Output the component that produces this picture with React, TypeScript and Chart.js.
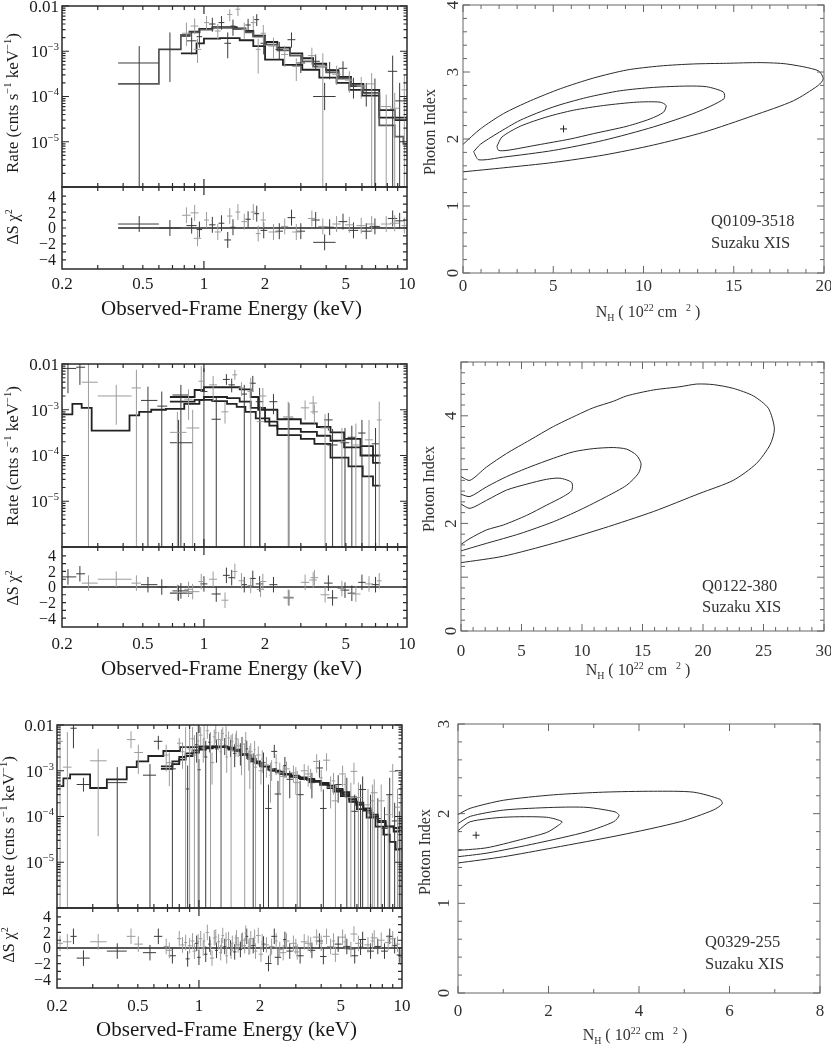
import React, { useEffect, useRef } from 'react';
import { Chart, registerables } from 'chart.js';

Chart.register(...registerables);

const PAGE_W = 831;
const PAGE_H = 1049;
const SERIF = '"Liberation Serif", "Times New Roman", serif';
const DARK = '#3a3a3a';
const GRAY = '#9c9c9c';

// ---------------- tick labels ----------------
const energyTickValues = [0.2, 0.5, 1, 2, 5, 10];
const energyTickLabels = ['0.2', '0.5', '1', '2', '5', '10'];
const energyMinorTicks = [0.3, 0.4, 0.5, 0.6, 0.7, 0.8, 0.9, 2, 3, 4, 5, 6, 7, 8, 9];
const energyMajorTicks = [1];
const rateTickValues = [1e-2, 1e-3, 1e-4, 1e-5];
const rateTickBase = ['0.01', '10', '10', '10'];
const rateTickExp = ['', '−3', '−4', '−5'];
const rateDecades = [1e-6, 1e-5, 1e-4, 1e-3, 1e-2];
const residTickValues = [4, 2, 0, -2, -4];
const residTickLabels = ['4', '2', '0', '−2', '−4'];
const residAllTicks = [-4, -3, -2, -1, 0, 1, 2, 3, 4];

const q0109NhTicks = [0, 5, 10, 15, 20];
const q0109GammaTicks = [0, 1, 2, 3, 4];
const q0122NhTicks = [0, 5, 10, 15, 20, 25, 30];
const q0122GammaTicks = [0, 2, 4];
const q0122GammaMajor = [0, 1, 2, 3, 4, 5];
const q0329NhTicks = [0, 2, 4, 6, 8];
const q0329GammaTicks = [0, 1, 2, 3];

// ---------------- spectra: [E, Elo, Ehi, rate, rateLo, rateHi, residual, instrument(0 dark / 1 grey)] ----------------
const q0109Points = [
  [0.48, 0.378, 0.60, 5.5e-4, 0, 1.3e-3, 0.5, 0],
  [0.68, 0.60, 0.77, 1.1e-3, 2.1e-4, 2.6e-3, 0.0, 0],
  [0.82, 0.78, 0.86, 2.5e-3, 1.3e-3, 4.3e-3, 1.6, 1],
  [0.87, 0.82, 0.92, 1.7e-3, 8.5e-4, 2.8e-3, 0.3, 0],
  [0.90, 0.86, 0.94, 3.6e-3, 2.4e-3, 5.3e-3, 1.9, 1],
  [0.95, 0.92, 0.98, 2.1e-3, 1.2e-3, 3.3e-3, -0.2, 0],
  [0.93, 0.89, 0.97, 1.1e-3, 5.5e-4, 1.9e-3, -1.3, 1],
  [1.03, 1.0, 1.06, 4.3e-3, 2.9e-3, 6.0e-3, 1.0, 1],
  [1.10, 1.06, 1.14, 4.0e-3, 2.7e-3, 5.5e-3, 0.4, 0],
  [1.17, 1.13, 1.21, 2.8e-3, 1.8e-3, 4.0e-3, -0.5, 1],
  [1.22, 1.18, 1.26, 4.3e-3, 3.0e-3, 6.0e-3, 0.6, 0],
  [1.31, 1.26, 1.36, 1.5e-3, 7.0e-4, 2.6e-3, -1.5, 0],
  [1.34, 1.30, 1.38, 6.5e-3, 4.6e-3, 8.5e-3, 1.5, 1],
  [1.39, 1.35, 1.43, 3.6e-3, 2.2e-3, 5.0e-3, 0.1, 0],
  [1.47, 1.43, 1.51, 8.5e-3, 6.0e-3, 1.0e-2, 2.0, 1],
  [1.58, 1.53, 1.63, 3.0e-3, 1.9e-3, 4.3e-3, 0.8, 1],
  [1.65, 1.60, 1.70, 3.8e-3, 2.6e-3, 5.2e-3, 1.1, 0],
  [1.75, 1.70, 1.80, 4.3e-3, 2.9e-3, 6.0e-3, 2.0, 1],
  [1.82, 1.77, 1.87, 5.0e-3, 3.6e-3, 6.6e-3, 1.8, 0],
  [1.85, 1.80, 1.90, 1.1e-3, 3.2e-4, 1.9e-3, -0.7, 1],
  [1.96, 1.90, 2.02, 2.5e-3, 1.5e-3, 3.8e-3, 1.0, 1],
  [1.97, 1.90, 2.05, 1.5e-3, 8.5e-4, 2.3e-3, -0.3, 0],
  [2.20, 2.08, 2.32, 1.3e-3, 7.0e-4, 2.0e-3, -0.5, 1],
  [2.35, 2.25, 2.45, 1.1e-3, 6.5e-4, 1.6e-3, -0.4, 0],
  [2.50, 2.40, 2.60, 8.5e-4, 4.5e-4, 1.3e-3, 0.2, 1],
  [2.70, 2.58, 2.82, 1.8e-3, 1.2e-3, 2.6e-3, 1.3, 0],
  [2.85, 2.72, 2.98, 4.6e-4, 2.2e-4, 7.0e-4, -0.5, 1],
  [3.00, 2.85, 3.15, 5.5e-4, 3.3e-4, 8.0e-4, -0.4, 0],
  [3.40, 3.25, 3.55, 8.0e-4, 5.0e-4, 1.2e-3, 1.2, 1],
  [3.55, 3.38, 3.72, 6.0e-4, 3.8e-4, 8.5e-4, 1.0, 0],
  [3.85, 3.65, 4.05, 4.6e-4, 0, 9.0e-4, 0.2, 1],
  [3.93, 3.45, 4.45, 1.0e-4, 5.0e-5, 2.0e-4, -1.8, 0],
  [4.16, 3.95, 4.37, 3.9e-4, 2.4e-4, 5.8e-4, 0.1, 0],
  [4.50, 4.28, 4.72, 3.1e-4, 1.8e-4, 4.8e-4, 0.5, 1],
  [4.84, 4.60, 5.08, 4.2e-4, 2.5e-4, 6.0e-4, 0.8, 0],
  [5.20, 4.95, 5.45, 2.3e-4, 1.2e-4, 3.6e-4, 0.4, 1],
  [5.45, 5.15, 5.75, 1.7e-4, 9.0e-5, 2.6e-4, -0.3, 0],
  [5.95, 5.65, 6.25, 1.7e-4, 9.0e-5, 2.7e-4, 0.3, 1],
  [6.30, 5.95, 6.65, 1.2e-4, 6.0e-5, 2.0e-4, -0.4, 0],
  [6.70, 6.35, 7.05, 1.9e-4, 0, 3.3e-4, 0.5, 1],
  [6.95, 6.55, 7.35, 1.4e-4, 0, 2.5e-4, 0.2, 0],
  [7.90, 7.45, 8.35, 6.0e-5, 0, 1.1e-4, 0.5, 1],
  [8.50, 8.05, 8.95, 3.6e-4, 0, 8.0e-4, 1.2, 0],
  [8.70, 8.25, 9.15, 5.5e-5, 0, 1.2e-4, 0.6, 1],
  [9.20, 8.75, 9.65, 8.0e-5, 0, 2.0e-4, 0.9, 0],
  [9.70, 9.40, 10.0, 1.4e-4, 0, 3.0e-4, 0.3, 1],
];

// models: [Elo, Ehi, rate]
const q0109ModelA = [
  [0.378, 0.60, 1.9e-4], [0.60, 0.77, 1.1e-3], [0.77, 0.85, 2.3e-3], [0.85, 0.95, 2.6e-3],
  [0.95, 1.10, 3.0e-3], [1.10, 1.40, 3.3e-3], [1.40, 1.60, 3.1e-3], [1.60, 1.75, 2.6e-3],
  [1.75, 2.00, 2.1e-3], [2.00, 2.30, 1.4e-3], [2.30, 2.65, 1.05e-3], [2.65, 3.05, 8.0e-4],
  [3.05, 3.45, 6.0e-4], [3.45, 4.00, 4.6e-4], [4.00, 4.60, 3.4e-4], [4.60, 5.30, 2.5e-4],
  [5.30, 6.10, 1.7e-4], [6.10, 7.30, 1.2e-4], [7.30, 8.70, 2.3e-5], [8.70, 9.60, 1.3e-5], [9.60, 10.0, 9e-6],
];
const q0109ModelB = [
  [0.77, 0.85, 2.2e-3], [0.85, 0.95, 2.7e-3], [0.95, 1.10, 3.1e-3], [1.10, 1.45, 3.4e-3],
  [1.45, 1.60, 3.2e-3], [1.60, 1.75, 2.8e-3], [1.75, 2.00, 2.2e-3], [2.00, 2.30, 1.6e-3],
  [2.30, 2.65, 1.2e-3], [2.65, 3.05, 9.0e-4], [3.05, 3.45, 7.0e-4], [3.45, 4.00, 5.3e-4],
  [4.00, 4.60, 3.8e-4], [4.60, 5.30, 2.7e-4], [5.30, 6.10, 1.9e-4], [6.10, 7.30, 1.4e-4], [7.30, 10.0, 3.4e-5],
];
const q0109ModelC = [
  [0.77, 0.92, 9.0e-4], [0.92, 1.00, 1.5e-3], [1.00, 1.20, 1.9e-3], [1.20, 1.50, 1.95e-3],
  [1.50, 1.75, 1.75e-3], [1.75, 2.00, 1.3e-3], [2.00, 2.45, 6.5e-4], [2.45, 3.05, 5.0e-4],
  [3.05, 3.70, 3.9e-4], [3.70, 4.50, 2.6e-4], [4.50, 5.20, 2.0e-4], [5.20, 6.00, 1.4e-4],
  [6.00, 7.30, 1.05e-4], [7.30, 8.70, 5.0e-5], [8.70, 10.0, 3.0e-5],
];
const q0109ZeroLine = [0.378, 10];

const q0122Points = [
  [0.214, 0.2, 0.235, 8.0e-3, 2.3e-3, 1.5e-2, 1.3, 0],
  [0.245, 0.235, 0.26, 8.5e-3, 3.5e-3, 1.5e-2, 1.7, 0],
  [0.27, 0.25, 0.30, 4.0e-3, 0, 1.5e-2, 0.5, 1],
  [0.37, 0.30, 0.44, 2.0e-3, 4.7e-4, 3.5e-3, 1.0, 1],
  [0.465, 0.44, 0.49, 3.0e-3, 0, 7.5e-3, 0.5, 1],
  [0.53, 0.49, 0.59, 1.6e-3, 0, 3.2e-3, 0.3, 0],
  [0.62, 0.59, 0.66, 1.2e-3, 0, 2.5e-3, 0.0, 0],
  [0.74, 0.68, 0.82, 3.2e-4, 0, 9.0e-4, -0.7, 1],
  [0.75, 0.68, 0.88, 1.9e-4, 0, 6.0e-4, -0.8, 0],
  [0.77, 0.70, 0.84, 2.1e-3, 0, 3.5e-3, -0.5, 0],
  [0.84, 0.80, 0.88, 1.7e-3, 6.0e-4, 2.8e-3, -0.3, 1],
  [0.88, 0.82, 0.95, 4.0e-4, 0, 1.0e-3, -0.6, 1],
  [0.97, 0.94, 1.0, 4.2e-3, 2.5e-3, 9.0e-3, 0.7, 1],
  [1.0, 0.96, 1.04, 2.5e-3, 0, 8.0e-3, 0.4, 0],
  [1.11, 1.06, 1.16, 3.5e-3, 1.5e-3, 5.5e-3, 1.0, 1],
  [1.15, 1.09, 1.21, 6.2e-4, 0, 1.8e-3, -0.9, 0],
  [1.27, 1.22, 1.32, 9.0e-4, 5.0e-4, 1.5e-3, -1.7, 1],
  [1.29, 1.24, 1.34, 4.6e-3, 3.5e-3, 6.0e-3, 1.5, 0],
  [1.37, 1.32, 1.42, 3.5e-3, 2.4e-3, 4.8e-3, 1.2, 0],
  [1.42, 1.38, 1.46, 5.8e-3, 4.5e-3, 7.5e-3, 2.0, 1],
  [1.53, 1.48, 1.58, 3.0e-3, 2.0e-3, 4.0e-3, 0.8, 1],
  [1.58, 1.53, 1.63, 2.2e-3, 0, 3.5e-3, 0.3, 0],
  [1.70, 1.64, 1.76, 2.5e-3, 0, 5.0e-3, 0.2, 1],
  [1.74, 1.68, 1.80, 3.8e-3, 2.5e-3, 5.5e-3, 1.1, 0],
  [1.88, 1.80, 1.96, 1.5e-3, 0, 3.0e-3, 0.4, 0],
  [1.95, 1.87, 2.03, 2.0e-3, 1.1e-3, 3.0e-3, 0.7, 1],
  [1.90, 1.82, 1.98, 5.5e-4, 0, 1.2e-3, -0.3, 1],
  [2.20, 2.10, 2.30, 1.5e-3, 8.0e-4, 2.2e-3, 0.3, 0],
  [2.60, 2.45, 2.75, 7.0e-4, 0, 1.5e-3, -1.3, 1],
  [2.62, 2.47, 2.77, 6.5e-4, 0, 1.4e-3, -1.4, 0],
  [3.15, 3.0, 3.3, 1.1e-3, 6.0e-4, 1.6e-3, 0.6, 1],
  [3.45, 3.3, 3.6, 1.4e-3, 8.0e-4, 2.0e-3, 0.9, 1],
  [3.50, 3.35, 3.65, 9.0e-4, 5.0e-4, 1.3e-3, 1.2, 1],
  [4.10, 3.9, 4.3, 6.0e-4, 3.5e-4, 8.5e-4, 0.5, 0],
  [3.95, 3.75, 4.15, 4.0e-4, 0, 8.0e-4, -1.0, 1],
  [4.30, 4.05, 4.55, 1.7e-4, 0, 3.8e-4, -1.4, 0],
  [4.78, 4.55, 5.0, 2.0e-4, 0, 4.0e-4, -0.2, 1],
  [4.95, 4.7, 5.2, 1.9e-4, 0, 4.0e-4, -0.4, 0],
  [5.60, 5.3, 5.9, 1.7e-4, 0, 5.0e-4, -0.9, 1],
  [5.35, 5.1, 5.6, 2.5e-4, 0, 4.5e-4, -0.8, 0],
  [6.00, 5.75, 6.25, 3.1e-4, 0, 6.0e-4, 0.6, 0],
  [6.50, 6.2, 6.8, 2.2e-4, 0, 6.0e-4, 0.4, 1],
  [7.00, 6.7, 7.3, 1.8e-4, 0, 4.0e-4, 0.3, 0],
  [7.30, 7.1, 7.5, 6.0e-4, 0, 1.5e-3, 0.8, 1],
];
const q0122ModelA = [
  [0.2, 0.225, 7.9e-4], [0.225, 0.25, 1.35e-3], [0.25, 0.28, 1.1e-3], [0.28, 0.43, 3.5e-4],
  [0.43, 0.48, 7.5e-4], [0.48, 0.55, 9.0e-4], [0.55, 0.65, 1.0e-3], [0.65, 0.8, 1.05e-3],
  [0.8, 0.95, 1.35e-3], [0.95, 1.1, 1.65e-3], [1.1, 1.3, 1.55e-3], [1.3, 1.45, 1.35e-3],
  [1.45, 1.6, 1.15e-3], [1.6, 1.8, 9.0e-4], [1.8, 2.1, 6.5e-4], [2.1, 2.3, 4.5e-4],
  [2.3, 3.0, 2.8e-4], [3.0, 3.5, 2.3e-4], [3.5, 4.2, 1.8e-4], [4.2, 5.15, 9.0e-5],
  [5.15, 6.05, 5.8e-5], [6.05, 6.8, 3.5e-5], [6.8, 7.4, 2.2e-5],
];
const q0122ModelB = [
  [0.68, 0.9, 1.9e-3], [0.9, 1.0, 2.7e-3], [1.0, 1.5, 3.1e-3], [1.5, 1.7, 2.8e-3],
  [1.7, 1.85, 1.9e-3], [1.85, 2.3, 1.0e-3], [2.3, 3.0, 6.2e-4], [3.0, 3.6, 5.0e-4],
  [3.6, 4.2, 4.2e-4], [4.2, 4.9, 3.2e-4], [4.9, 5.9, 2.3e-4], [5.9, 6.8, 1.6e-4], [6.8, 7.4, 1.0e-4],
];
const q0122ModelC = [
  [0.68, 0.9, 1.5e-3], [0.9, 1.0, 1.65e-3], [1.0, 1.3, 1.9e-3], [1.3, 1.5, 1.8e-3],
  [1.5, 1.7, 1.5e-3], [1.7, 2.0, 1.1e-3], [2.0, 2.3, 5.5e-4], [2.3, 3.0, 3.8e-4],
  [3.0, 3.6, 3.3e-4], [3.6, 4.2, 2.7e-4], [4.2, 4.9, 2.1e-4], [4.9, 5.9, 1.5e-4],
  [5.9, 6.8, 1.0e-4], [6.8, 7.4, 6.9e-5],
];
const q0122ZeroLine = [0.2, 10];

const q0329Points = [
  [0.207, 0.2, 0.214, 4.4e-3, 0, 1.2e-2, 0.6, 1],
  [0.225, 0.214, 0.236, 1.2e-3, 0, 7.0e-3, 0.8, 1],
  [0.241, 0.233, 0.25, 8.5e-3, 3.1e-3, 1.2e-2, 1.5, 0],
  [0.27, 0.25, 0.29, 5.0e-4, 3.5e-4, 7.0e-4, -1.3, 0],
  [0.319, 0.291, 0.351, 1.65e-3, 3.7e-5, 3.0e-3, 0.8, 1],
  [0.396, 0.352, 0.441, 5.5e-4, 0, 1.2e-3, -0.4, 0],
  [0.463, 0.441, 0.487, 4.8e-3, 3.1e-3, 7.3e-3, 1.5, 1],
  [0.503, 0.48, 0.53, 2.5e-3, 8.5e-4, 3.7e-3, 0.5, 1],
  [0.574, 0.53, 0.615, 8.0e-4, 0, 1.4e-3, -0.6, 0],
  [0.631, 0.60, 0.66, 4.4e-3, 2.9e-3, 5.8e-3, 1.5, 0],
  [0.69, 0.67, 0.71, 2.2e-3, 9.7e-4, 3.7e-3, 0.2, 1],
  [0.715, 0.69, 0.74, 1.5e-3, 4.6e-4, 2.5e-3, -0.3, 1],
  [0.74, 0.71, 0.77, 1.1e-3, 0, 1.6e-3, -1.0, 0],
  [0.80, 0.78, 0.82, 4.0e-3, 2.9e-3, 5.2e-3, 1.2, 1],
  [0.83, 0.81, 0.85, 2.6e-3, 1.1e-3, 4.2e-3, 0.4, 1],
  [0.86, 0.845, 0.875, 3.3e-3, 0, 9.0e-3, 0.7, 1],
  [0.88, 0.86, 0.90, 4.0e-4, 0, 1.3e-3, -1.4, 0],
  [0.90, 0.88, 0.92, 3.0e-3, 0, 8.0e-3, 0.3, 1],
  [0.93, 0.91, 0.95, 5.0e-3, 2.5e-3, 9.0e-3, 0.9, 1],
  [0.95, 0.93, 0.97, 2.2e-3, 0, 6.0e-3, -0.4, 1],
  [0.975, 0.955, 0.995, 3.7e-3, 1.5e-3, 7.0e-3, 0.6, 0],
  [0.99, 0.975, 1.005, 4.5e-3, 0, 1.2e-2, 0.8, 1],
  [1.0, 0.98, 1.02, 1.05e-3, 0, 1.8e-3, -1.2, 0],
  [1.02, 1.0, 1.04, 6.0e-3, 3.5e-3, 9.0e-3, 1.2, 1],
  [1.05, 1.03, 1.07, 3.1e-3, 1.5e-3, 5.0e-3, 0.0, 1],
  [1.06, 1.045, 1.075, 5.0e-3, 2.0e-3, 1.2e-2, 0.9, 1],
  [1.08, 1.06, 1.10, 2.0e-3, 0, 4.5e-3, -0.8, 0],
  [1.10, 1.08, 1.12, 7.5e-3, 5.0e-3, 1.1e-2, 2.0, 1],
  [1.13, 1.11, 1.15, 4.2e-3, 2.5e-3, 6.5e-3, 0.5, 0],
  [1.14, 1.125, 1.155, 3.5e-3, 0, 7.0e-3, 0.1, 1],
  [1.16, 1.13, 1.19, 1.5e-3, 5.0e-4, 2.5e-3, -1.3, 1],
  [1.19, 1.17, 1.21, 5.5e-3, 3.5e-3, 8.0e-3, 1.3, 1],
  [1.21, 1.195, 1.225, 6.8e-3, 4.0e-3, 1.1e-2, 1.4, 1],
  [1.22, 1.20, 1.24, 3.0e-3, 1.5e-3, 4.8e-3, -0.3, 0],
  [1.25, 1.23, 1.27, 4.8e-3, 2.8e-3, 7.0e-3, 0.8, 1],
  [1.28, 1.26, 1.30, 2.6e-3, 0, 5.0e-3, -0.6, 1],
  [1.29, 1.275, 1.305, 4.0e-3, 0, 8.0e-3, 0.3, 1],
  [1.31, 1.29, 1.33, 6.5e-3, 4.5e-3, 9.0e-3, 1.6, 1],
  [1.34, 1.32, 1.36, 3.6e-3, 2.2e-3, 5.2e-3, 0.2, 0],
  [1.36, 1.345, 1.375, 5.8e-3, 3.0e-3, 9.5e-3, 1.0, 1],
  [1.37, 1.35, 1.39, 2.0e-3, 9.0e-4, 3.2e-3, -1.0, 1],
  [1.40, 1.38, 1.42, 5.2e-3, 3.5e-3, 7.2e-3, 1.1, 1],
  [1.43, 1.41, 1.45, 3.3e-3, 2.0e-3, 4.8e-3, 0.0, 0],
  [1.44, 1.425, 1.455, 2.8e-3, 0, 6.0e-3, -0.4, 1],
  [1.46, 1.44, 1.48, 4.4e-3, 2.6e-3, 6.5e-3, 0.6, 1],
  [1.50, 1.47, 1.53, 2.4e-3, 1.2e-3, 3.8e-3, -0.5, 0],
  [1.52, 1.50, 1.54, 4.0e-3, 2.0e-3, 6.5e-3, 0.7, 1],
  [1.53, 1.50, 1.56, 5.0e-3, 3.2e-3, 7.5e-3, 1.3, 1],
  [1.56, 1.53, 1.59, 3.5e-3, 2.0e-3, 5.0e-3, 0.4, 1],
  [1.60, 1.57, 1.63, 2.6e-3, 1.3e-3, 4.0e-3, -0.2, 0],
  [1.62, 1.60, 1.64, 3.2e-3, 8.0e-4, 5.5e-3, 0.9, 1],
  [1.64, 1.61, 1.67, 3.8e-3, 2.4e-3, 5.5e-3, 1.0, 1],
  [1.68, 1.65, 1.71, 2.2e-3, 0, 4.0e-3, 0.3, 1],
  [1.70, 1.68, 1.72, 4.6e-3, 2.5e-3, 7.0e-3, 1.9, 1],
  [1.72, 1.69, 1.75, 3.0e-3, 1.8e-3, 4.5e-3, 1.5, 0],
  [1.76, 1.73, 1.79, 1.8e-3, 1.0e-3, 2.8e-3, 0.1, 1],
  [1.78, 1.76, 1.80, 2.0e-3, 4.0e-4, 3.5e-3, 0.2, 1],
  [1.80, 1.76, 1.84, 2.6e-3, 1.5e-3, 4.0e-3, 1.2, 1],
  [1.85, 1.80, 1.90, 1.7e-3, 0, 2.4e-3, 0.3, 0],
  [1.88, 1.86, 1.90, 2.9e-3, 1.5e-3, 4.5e-3, 1.4, 1],
  [1.90, 1.86, 1.94, 1.2e-3, 0, 2.2e-3, -0.4, 1],
  [1.96, 1.91, 2.01, 2.2e-3, 1.3e-3, 3.4e-3, 1.6, 1],
  [2.02, 1.97, 2.07, 1.0e-3, 5.0e-4, 1.6e-3, -0.8, 1],
  [2.05, 2.02, 2.08, 1.8e-3, 9.0e-4, 2.8e-3, 0.8, 1],
  [2.08, 2.03, 2.13, 1.5e-3, 0, 2.5e-3, 0.5, 0],
  [2.15, 2.09, 2.21, 1.3e-3, 7.0e-4, 2.0e-3, 0.4, 1],
  [2.20, 2.12, 2.28, 1.5e-4, 0, 5.0e-4, -2.0, 0],
  [2.25, 2.22, 2.28, 8.0e-4, 2.0e-4, 1.5e-3, -0.9, 1],
  [2.28, 2.21, 2.35, 1.1e-3, 6.0e-4, 1.7e-3, 0.2, 1],
  [2.35, 2.27, 2.43, 2.65e-3, 1.9e-3, 3.7e-3, 1.5, 0],
  [2.40, 2.36, 2.44, 1.5e-3, 8.0e-4, 2.3e-3, 0.9, 1],
  [2.45, 2.36, 2.54, 3.1e-4, 0, 6.0e-4, -1.2, 0],
  [2.50, 2.42, 2.58, 9.0e-4, 3.0e-4, 1.5e-3, -0.2, 1],
  [2.60, 2.51, 2.69, 7.5e-4, 0, 1.3e-3, -0.6, 1],
  [2.65, 2.60, 2.70, 1.3e-3, 7.0e-4, 2.0e-3, 1.1, 0],
  [2.70, 2.60, 2.80, 1.1e-3, 7.0e-4, 1.6e-3, 0.9, 1],
  [2.80, 2.70, 2.90, 6.5e-4, 2.5e-4, 1.0e-3, -0.4, 0],
  [2.92, 2.81, 3.03, 9.0e-4, 5.5e-4, 1.3e-3, 0.6, 1],
  [3.00, 2.94, 3.06, 7.5e-4, 3.0e-4, 1.2e-3, 0.2, 1],
  [3.05, 2.93, 3.17, 5.5e-4, 0, 1.0e-3, -0.5, 1],
  [3.15, 3.02, 3.28, 3.0e-4, 0, 6.0e-4, -1.0, 0],
  [3.30, 3.17, 3.43, 1.0e-3, 6.0e-4, 1.4e-3, 0.8, 1],
  [3.45, 3.31, 3.59, 8.5e-4, 4.5e-4, 1.3e-3, 0.6, 1],
  [3.55, 3.48, 3.62, 7.5e-4, 4.0e-4, 1.1e-3, 0.4, 1],
  [3.60, 3.46, 3.74, 5.5e-4, 2.5e-4, 9.0e-4, -0.3, 0],
  [3.80, 3.64, 3.96, 1.6e-3, 9.0e-4, 2.3e-3, 1.4, 1],
  [3.92, 3.76, 4.08, 1.15e-3, 7.0e-4, 1.7e-3, 0.9, 0],
  [4.00, 3.92, 4.08, 7.0e-4, 3.5e-4, 1.05e-3, 0.6, 1],
  [4.10, 3.95, 4.25, 1.5e-4, 0, 3.9e-4, -1.1, 0],
  [4.25, 4.08, 4.42, 1.7e-3, 1.0e-3, 2.4e-3, 1.5, 1],
  [4.45, 4.27, 4.63, 4.4e-4, 1.5e-4, 7.5e-4, 0.2, 1],
  [4.60, 4.51, 4.69, 6.0e-4, 3.0e-4, 9.0e-4, 0.9, 1],
  [4.70, 4.51, 4.89, 2.2e-4, 0, 5.0e-4, -0.8, 1],
  [4.85, 4.65, 5.05, 5.0e-4, 2.0e-4, 8.0e-4, 0.5, 0],
  [5.10, 4.90, 5.30, 8.5e-4, 4.5e-4, 1.3e-3, 1.4, 1],
  [5.25, 5.15, 5.35, 5.0e-4, 2.5e-4, 8.0e-4, 0.8, 1],
  [5.35, 5.14, 5.56, 3.5e-4, 0, 7.0e-4, 0.2, 0],
  [5.60, 5.38, 5.82, 2.6e-4, 0, 5.5e-4, -0.2, 1],
  [5.80, 5.57, 6.03, 9.7e-4, 5.0e-4, 1.5e-3, 1.8, 1],
  [5.85, 5.62, 6.08, 1.3e-4, 0, 3.0e-4, -1.0, 0],
  [6.10, 5.86, 6.34, 2.6e-4, 0, 5.5e-4, 0.6, 1],
  [6.25, 6.13, 6.37, 2.0e-4, 0, 5.0e-4, 0.1, 0],
  [6.40, 6.15, 6.65, 3.9e-4, 0, 7.5e-4, 1.1, 0],
  [6.80, 6.53, 7.07, 1.8e-4, 0, 4.0e-4, 0.4, 1],
  [7.00, 6.72, 7.28, 1.2e-4, 0, 3.0e-4, -0.4, 0],
  [7.15, 7.0, 7.3, 2.2e-4, 0, 5.0e-4, 0.9, 1],
  [7.30, 7.01, 7.59, 3.3e-4, 0, 6.5e-4, 1.3, 1],
  [7.60, 7.30, 7.90, 9.0e-5, 0, 2.5e-4, 0.2, 0],
  [7.90, 7.59, 8.21, 2.2e-4, 0, 5.0e-4, 1.0, 1],
  [8.20, 7.88, 8.52, 5.5e-5, 0, 1.6e-4, -0.4, 0],
  [8.55, 8.22, 8.88, 1.1e-4, 0, 3.0e-4, 0.7, 1],
  [8.70, 8.36, 9.04, 3.0e-4, 0, 7.0e-4, 1.5, 0],
  [9.00, 8.65, 9.35, 9.7e-4, 9.3e-5, 1.4e-3, 1.2, 1],
  [9.20, 8.90, 9.50, 8.0e-5, 0, 2.0e-4, 0.3, 0],
  [9.50, 9.20, 9.80, 1.6e-4, 0, 4.0e-4, 0.5, 1],
  [9.70, 9.40, 10.0, 5.0e-5, 0, 1.3e-4, -0.9, 0],
  [9.85, 9.60, 10.0, 2.5e-4, 0, 6.0e-4, -1.2, 1],
];
const q0329ModelA = [
  [0.2, 0.215, 4.6e-4], [0.215, 0.232, 6.8e-4], [0.232, 0.291, 8.3e-4], [0.291, 0.352, 4.2e-4],
  [0.352, 0.441, 6.5e-4], [0.441, 0.494, 1.2e-3], [0.494, 0.563, 1.6e-3], [0.563, 0.668, 2.1e-3],
  [0.668, 0.807, 2.7e-3], [0.807, 1.0, 3.3e-3], [1.0, 1.2, 3.4e-3], [1.2, 1.4, 3.3e-3],
  [1.4, 1.6, 2.9e-3], [1.6, 1.8, 2.2e-3], [1.8, 2.0, 1.6e-3], [2.0, 2.25, 1.25e-3],
  [2.25, 2.5, 1.0e-3], [2.5, 2.8, 8.5e-4], [2.8, 3.15, 7.4e-4], [3.15, 3.5, 6.6e-4],
  [3.5, 3.95, 5.8e-4], [3.95, 4.3, 4.9e-4], [4.3, 4.6, 4.2e-4], [4.6, 5.0, 3.5e-4],
  [5.0, 5.5, 2.8e-4], [5.5, 6.0, 2.1e-4], [6.0, 6.7, 1.45e-4], [6.7, 7.4, 9.5e-5],
  [7.4, 8.1, 6.0e-5], [8.1, 8.7, 4.0e-5], [8.7, 9.3, 2.8e-5], [9.3, 10.0, 1.9e-5],
];
const q0329ModelB = [
  [0.65, 0.74, 1.25e-3], [0.74, 0.80, 1.6e-3], [0.80, 0.86, 2.0e-3], [0.86, 0.93, 2.4e-3],
  [0.93, 1.0, 2.8e-3], [1.0, 1.08, 3.1e-3], [1.08, 1.17, 3.3e-3], [1.17, 1.27, 3.4e-3],
  [1.27, 1.38, 3.4e-3], [1.38, 1.5, 3.2e-3], [1.5, 1.62, 2.8e-3], [1.62, 1.75, 2.3e-3],
  [1.75, 1.9, 1.85e-3], [1.9, 2.05, 1.5e-3], [2.05, 2.2, 1.3e-3], [2.2, 2.4, 1.1e-3],
  [2.4, 2.6, 9.5e-4], [2.6, 2.85, 8.5e-4], [2.85, 3.1, 7.8e-4], [3.1, 3.4, 7.2e-4],
  [3.4, 3.7, 6.6e-4], [3.7, 4.0, 6.0e-4], [4.0, 4.35, 5.4e-4], [4.35, 4.7, 4.7e-4],
  [4.7, 5.1, 4.0e-4], [5.1, 5.5, 3.3e-4], [5.5, 5.95, 2.6e-4], [5.95, 6.45, 2.0e-4],
  [6.45, 7.0, 1.5e-4], [7.0, 7.6, 1.1e-4], [7.6, 8.3, 8.0e-5], [8.3, 9.1, 6.0e-5], [9.1, 10.0, 4.7e-5],
];
const q0329ModelC = [
  [0.65, 0.74, 1.1e-3], [0.74, 0.80, 1.4e-3], [0.80, 0.86, 1.75e-3], [0.86, 0.93, 2.1e-3],
  [0.93, 1.0, 2.5e-3], [1.0, 1.08, 2.9e-3], [1.08, 1.17, 3.1e-3], [1.17, 1.27, 3.25e-3],
  [1.27, 1.38, 3.3e-3], [1.38, 1.5, 3.1e-3], [1.5, 1.62, 2.7e-3], [1.62, 1.75, 2.25e-3],
  [1.75, 1.9, 1.8e-3], [1.9, 2.05, 1.45e-3], [2.05, 2.2, 1.25e-3], [2.2, 2.4, 1.05e-3],
  [2.4, 2.6, 9.2e-4], [2.6, 2.85, 8.2e-4], [2.85, 3.1, 7.5e-4], [3.1, 3.4, 6.9e-4],
  [3.4, 3.7, 6.3e-4], [3.7, 4.0, 5.8e-4], [4.0, 4.35, 5.1e-4], [4.35, 4.7, 4.4e-4],
  [4.7, 5.1, 3.7e-4], [5.1, 5.5, 3.0e-4], [5.5, 5.95, 2.35e-4], [5.95, 6.45, 1.8e-4],
  [6.45, 7.0, 1.35e-4], [7.0, 7.6, 1.0e-4], [7.6, 8.3, 7.5e-5], [8.3, 9.1, 6.1e-5], [9.1, 10.0, 5.6e-5],
];
const q0329ZeroLine = [0.2, 10];

// ---------------- contours: [N_H, Gamma] ----------------
const q0109C68 = [[1.88, 1.89], [2.16, 2.03], [3.17, 2.19], [4.65, 2.33], [6.13, 2.43], [7.79, 2.50], [9.63, 2.55], [10.92, 2.55], [11.25, 2.50], [11.11, 2.40], [10.37, 2.30], [9.08, 2.19], [7.23, 2.08], [5.94, 2.00], [4.10, 1.91], [2.44, 1.83], [1.97, 1.83], [1.88, 1.89]];
const q0109C90 = [[0.59, 1.81], [0.96, 1.92], [1.88, 2.08], [3.17, 2.28], [5.02, 2.48], [6.86, 2.62], [8.71, 2.72], [10.55, 2.77], [12.40, 2.79], [13.50, 2.78], [14.43, 2.70], [14.46, 2.60], [12.95, 2.40], [10.55, 2.18], [7.79, 1.98], [5.02, 1.83], [2.25, 1.73], [0.87, 1.69], [0.59, 1.81]];
const q0109C99 = [[0, 1.92], [0.96, 2.15], [2.25, 2.38], [3.73, 2.57], [5.39, 2.75], [7.23, 2.91], [9.08, 3.03], [10.92, 3.09], [12.77, 3.12], [14.61, 3.13], [16.46, 3.14], [17.93, 3.12], [19.68, 3.02], [19.96, 2.90], [19.68, 2.80], [18.30, 2.57], [16.09, 2.35], [13.32, 2.10], [10.55, 1.91], [7.79, 1.76], [5.02, 1.65], [2.25, 1.57], [0, 1.51]];
const q0109Best = [5.57, 2.15];

const q0122C68 = [[0, 2.36], [0.74, 2.28], [2.12, 2.43], [3.77, 2.62], [5.43, 2.73], [7.08, 2.82], [8.18, 2.84], [9.15, 2.76], [9.15, 2.61], [8.46, 2.50], [7.08, 2.34], [5.43, 2.15], [3.50, 1.97], [2.12, 1.88], [0.74, 1.72], [0, 1.61]];
const q0122C90 = [[0, 2.54], [0.74, 2.50], [2.12, 2.68], [3.77, 2.87], [5.70, 3.05], [7.63, 3.21], [9.28, 3.33], [10.94, 3.39], [12.59, 3.41], [13.69, 3.38], [14.50, 3.27], [14.88, 3.11], [14.66, 2.93], [13.69, 2.71], [12.04, 2.50], [9.83, 2.25], [7.63, 2.03], [4.88, 1.81], [2.12, 1.63], [0, 1.49]];
const q0122C99 = [[0, 2.87], [0.74, 2.80], [2.12, 3.05], [3.77, 3.30], [5.70, 3.55], [7.63, 3.80], [9.56, 4.01], [10.94, 4.15], [12.59, 4.27], [13.69, 4.37], [15.90, 4.48], [18.10, 4.54], [19.48, 4.59], [20.85, 4.58], [22.50, 4.51], [24.16, 4.37], [25.40, 4.14], [25.90, 3.76], [25.54, 3.46], [24.40, 3.11], [22.50, 2.80], [19.75, 2.56], [15.90, 2.22], [11.76, 1.91], [7.63, 1.63], [3.50, 1.39], [0, 1.27]];

const q0329C68 = [[0, 1.81], [0.27, 1.91], [1.01, 1.96], [1.96, 1.96], [2.30, 1.91], [2.19, 1.86], [1.96, 1.79], [1.38, 1.71], [0.64, 1.62], [0, 1.59]];
const q0329C90 = [[0, 1.89], [0.27, 1.97], [1.01, 2.04], [2.11, 2.07], [2.85, 2.07], [3.47, 2.02], [3.56, 1.98], [3.44, 1.91], [2.85, 1.80], [1.74, 1.67], [0.64, 1.56], [0, 1.52]];
const q0329C99 = [[0, 1.99], [0.27, 2.06], [1.01, 2.15], [2.11, 2.21], [3.22, 2.24], [4.32, 2.25], [5.20, 2.24], [5.79, 2.16], [5.84, 2.11], [5.64, 2.04], [4.91, 1.91], [3.58, 1.76], [2.11, 1.62], [1.01, 1.52], [0, 1.45]];
const q0329Best = [0.40, 1.76];

// ---------------- drawing helpers ----------------
type Seg = { t: string; s?: 'sup' | 'sub'; it?: boolean };
type Align = 'left' | 'center' | 'right';
interface FreeText { x: number; y: number; segs: Seg[]; size: number; align: Align; rotate?: boolean }
interface AxisText { axis: 'x' | 'y'; v: number; at: number; segs: Seg[]; size: number; align: Align; rotate?: boolean }
interface Tick { v: number; len: number }
interface Deco {
  color: string; textColor: string; frameWidth: number; tickWidth: number;
  xTicks: Tick[]; yTicks: Tick[]; axisTexts: AxisText[]; freeTexts: FreeText[];
}
interface Frame { l: number; t: number; r: number; b: number }

function fontFor(size: number, it?: boolean) {
  return `${it ? 'italic ' : ''}${size}px ${SERIF}`;
}

function drawRich(ctx: CanvasRenderingContext2D, segs: Seg[], x: number, y: number, size: number, align: Align, rotate: boolean | undefined, color: string) {
  const sm = size * 0.62;
  let w = 0;
  const widths = segs.map((sg) => {
    ctx.font = fontFor(sg.s ? sm : size, sg.it);
    const m = ctx.measureText(sg.t).width;
    w += m;
    return m;
  });
  ctx.save();
  ctx.translate(x, y);
  if (rotate) ctx.rotate(-Math.PI / 2);
  ctx.fillStyle = color;
  ctx.textBaseline = 'alphabetic';
  let cx = align === 'left' ? 0 : align === 'center' ? -w / 2 : -w;
  const base = size * 0.34;
  segs.forEach((sg, i) => {
    ctx.font = fontFor(sg.s ? sm : size, sg.it);
    const dy = sg.s === 'sup' ? -size * 0.4 : sg.s === 'sub' ? size * 0.22 : 0;
    ctx.fillText(sg.t, cx, base + dy);
    cx += widths[i];
  });
  ctx.restore();
}

function decoPlugin(d: Deco) {
  return {
    id: 'deco',
    afterDatasetsDraw(chart: any) {
      const ctx: CanvasRenderingContext2D = chart.ctx;
      const a = chart.chartArea;
      const xs = chart.scales.x;
      const ys = chart.scales.y;
      ctx.save();
      ctx.strokeStyle = d.color;
      ctx.lineWidth = d.tickWidth;
      ctx.beginPath();
      d.xTicks.forEach((t) => {
        const p = xs.getPixelForValue(t.v);
        ctx.moveTo(p, a.bottom); ctx.lineTo(p, a.bottom - t.len);
        ctx.moveTo(p, a.top); ctx.lineTo(p, a.top + t.len);
      });
      d.yTicks.forEach((t) => {
        const p = ys.getPixelForValue(t.v);
        ctx.moveTo(a.left, p); ctx.lineTo(a.left + t.len, p);
        ctx.moveTo(a.right, p); ctx.lineTo(a.right - t.len, p);
      });
      ctx.stroke();
      ctx.lineWidth = d.frameWidth;
      ctx.strokeRect(a.left, a.top, a.right - a.left, a.bottom - a.top);
      d.axisTexts.forEach((t) => {
        const p = t.axis === 'x' ? xs.getPixelForValue(t.v) : ys.getPixelForValue(t.v);
        const x = t.axis === 'x' ? p : t.at;
        const y = t.axis === 'x' ? t.at : p;
        drawRich(ctx, t.segs, x, y, t.size, t.align, t.rotate, d.textColor);
      });
      d.freeTexts.forEach((t) => drawRich(ctx, t.segs, t.x, t.y, t.size, t.align, t.rotate, d.textColor));
      ctx.restore();
    },
  };
}

function baseConfig(frame: Frame, xScale: any, yScale: any, datasets: any[], deco: Deco) {
  return {
    type: 'line',
    data: { datasets },
    options: {
      responsive: false,
      animation: false,
      events: [],
      layout: { padding: { left: frame.l, top: frame.t, right: PAGE_W - frame.r, bottom: PAGE_H - frame.b } },
      plugins: { legend: { display: false }, tooltip: { enabled: false } },
      scales: { x: { ...xScale, display: false }, y: { ...yScale, display: false } },
      elements: { point: { radius: 0 }, line: { tension: 0 } },
    },
    plugins: [decoPlugin(deco)],
  };
}

function crossSegments(points: number[][], inst: number, resid: boolean) {
  const out: any[] = [];
  points.forEach((p) => {
    if (p[7] !== inst) return;
    const y = resid ? p[6] : p[3];
    const ylo = resid ? p[6] - 1 : Math.max(p[4], 1e-9);
    const yhi = resid ? p[6] + 1 : p[5];
    out.push({ x: p[1], y }, { x: p[2], y }, { x: null, y: null }, { x: p[0], y: ylo }, { x: p[0], y: yhi }, { x: null, y: null });
  });
  return out;
}

function stepSegments(bins: number[][]) {
  const out: any[] = [];
  bins.forEach(([lo, hi, v]) => { out.push({ x: lo, y: v }, { x: hi, y: v }); });
  return out;
}

function lineDs(data: any[], color: string, width: number, extra: any = {}) {
  return { data, borderColor: color, backgroundColor: color, borderWidth: width, pointRadius: 0, spanGaps: false, fill: false, ...extra };
}

interface SpecLayout {
  upper: Frame; resid: Frame; xLabelY: number; xTitleY: number; titleX: number; rateTitleY: number; residTitleY: number;
}

const specLayouts: SpecLayout[] = [
  { upper: { l: 62, t: 6, r: 407, b: 187 }, resid: { l: 62, t: 187, r: 407, b: 269 }, xLabelY: 283, xTitleY: 308, titleX: 12, rateTitleY: 103, residTitleY: 227 },
  { upper: { l: 62, t: 364, r: 407, b: 547 }, resid: { l: 62, t: 547, r: 407, b: 627 }, xLabelY: 643, xTitleY: 668, titleX: 12, rateTitleY: 456, residTitleY: 588 },
  { upper: { l: 57, t: 725, r: 402, b: 908 }, resid: { l: 57, t: 908, r: 402, b: 988 }, xLabelY: 1005, xTitleY: 1029, titleX: 8, rateTitleY: 826, residTitleY: 945 },
];

function energyTicks(): Tick[] {
  return [...energyMinorTicks.map((v) => ({ v, len: 4 })), ...energyMajorTicks.map((v) => ({ v, len: 8 }))];
}

function rateTicks(): Tick[] {
  const out: Tick[] = [];
  rateDecades.forEach((d) => {
    out.push({ v: d, len: 7 });
    if (d < 1e-2) for (let m = 2; m <= 9; m++) out.push({ v: d * m, len: 3.5 });
  });
  return out;
}

const logX = { type: 'logarithmic', min: 0.2, max: 10 };

function spectrumUpperConfig(L: SpecLayout, points: number[][], models: number[][][], modelColors: string[]) {
  const datasets = [
    lineDs(crossSegments(points, 1, false), GRAY, 1),
    lineDs(crossSegments(points, 0, false), DARK, 1),
    ...models.map((m, i) => lineDs(stepSegments(m), modelColors[i], 1.8)),
  ];
  const deco: Deco = {
    color: '#2a2a2a', textColor: '#1a1a1a', frameWidth: 1.5, tickWidth: 1.2,
    xTicks: energyTicks(), yTicks: rateTicks(),
    axisTexts: rateTickValues.map((v, i) => ({
      axis: 'y' as const, v, at: L.upper.l - 3, size: 17, align: 'right' as Align,
      segs: rateTickExp[i] ? [{ t: rateTickBase[i] }, { t: rateTickExp[i], s: 'sup' as const }] : [{ t: rateTickBase[i] }],
    })),
    freeTexts: [{
      x: L.titleX, y: L.rateTitleY, size: 17, align: 'center', rotate: true,
      segs: [{ t: 'Rate (cnts s' }, { t: '−1', s: 'sup' }, { t: ' keV' }, { t: '−1', s: 'sup' }, { t: ')' }],
    }],
  };
  return baseConfig(L.upper, logX, { type: 'logarithmic', min: 1e-6, max: 1e-2 }, datasets, deco);
}

function spectrumResidConfig(L: SpecLayout, points: number[][], zero: number[]) {
  const datasets = [
    lineDs(crossSegments(points, 1, true), GRAY, 1),
    lineDs(crossSegments(points, 0, true), DARK, 1),
    lineDs([{ x: zero[0], y: 0 }, { x: zero[1], y: 0 }], '#222', 1.6),
  ];
  const deco: Deco = {
    color: '#2a2a2a', textColor: '#1a1a1a', frameWidth: 1.5, tickWidth: 1.2,
    xTicks: energyTicks(), yTicks: residAllTicks.map((v) => ({ v, len: 4 })),
    axisTexts: [
      ...energyTickValues.map((v, i) => ({ axis: 'x' as const, v, at: L.xLabelY, size: 17, align: 'center' as Align, segs: [{ t: energyTickLabels[i] }] })),
      ...residTickValues.map((v, i) => ({ axis: 'y' as const, v, at: L.resid.l - 6, size: 16, align: 'right' as Align, segs: [{ t: residTickLabels[i] }] })),
    ],
    freeTexts: [
      { x: L.titleX + 1, y: L.residTitleY, size: 16, align: 'center', rotate: true, segs: [{ t: 'ΔS χ' }, { t: '2', s: 'sup' }] },
      { x: (L.resid.l + L.resid.r) / 2 - 3, y: L.xTitleY, size: 21, align: 'center', segs: [{ t: 'Observed-Frame Energy (keV)' }] },
    ],
  };
  return baseConfig(L.resid, logX, { type: 'linear', min: -5.15, max: 5.15 }, datasets, deco);
}

interface ContLayout {
  frame: Frame; xMax: number; yMax: number; xLabelY: number; yLabelX: number; yTitleX: number; yTitleY: number;
  xTitleX: number; xTitleY: number; nameX: number; nameY: number[];
}

const contLayouts: ContLayout[] = [
  { frame: { l: 463, t: 5, r: 824, b: 273 }, xMax: 20, yMax: 4, xLabelY: 285, yLabelX: 452, yTitleX: 430, yTitleY: 132, xTitleX: 648, xTitleY: 312, nameX: 711, nameY: [220, 242] },
  { frame: { l: 461, t: 362, r: 824, b: 631 }, xMax: 30, yMax: 5, xLabelY: 650, yLabelX: 450, yTitleX: 429, yTitleY: 489, xTitleX: 638, xTitleY: 670, nameX: 702, nameY: [585, 606] },
  { frame: { l: 458, t: 724, r: 820, b: 993 }, xMax: 8, yMax: 3, xLabelY: 1010, yLabelX: 443, yTitleX: 425, yTitleY: 852, xTitleX: 635, xTitleY: 1035, nameX: 705, nameY: [941, 963] },
];

function contourConfig(L: ContLayout, contours: number[][][], best: number[] | null, xLabels: number[], yLabels: number[], yMajor: number[], name: string) {
  const datasets: any[] = contours.map((c) => lineDs(c.map(([x, y]) => ({ x, y })), '#2a2a2a', 1, { tension: 0.25 }));
  if (best) datasets.push({ data: [{ x: best[0], y: best[1] }], showLine: false, pointStyle: 'cross', pointRadius: 3.5, borderColor: '#222', borderWidth: 1 });
  const xTicks: Tick[] = [];
  for (let v = 0; v <= L.xMax; v += 1) xTicks.push({ v, len: xLabels.includes(v) ? 7 : 4 });
  const yTicks: Tick[] = [];
  for (let k = 0; k <= L.yMax * 5; k++) {
    const v = k / 5;
    yTicks.push({ v, len: yMajor.some((m) => Math.abs(m - v) < 1e-6) ? 7 : 4 });
  }
  const deco: Deco = {
    color: '#666', textColor: '#333', frameWidth: 1, tickWidth: 1,
    xTicks, yTicks,
    axisTexts: [
      ...xLabels.map((v) => ({ axis: 'x' as const, v, at: L.xLabelY, size: 17, align: 'center' as Align, segs: [{ t: String(v) }] })),
      ...yLabels.map((v) => ({ axis: 'y' as const, v, at: L.yLabelX, size: 17, align: 'center' as Align, rotate: true, segs: [{ t: String(v) }] })),
    ],
    freeTexts: [
      { x: L.yTitleX, y: L.yTitleY, size: 16, align: 'center', rotate: true, segs: [{ t: 'Photon Index' }] },
      {
        x: L.xTitleX, y: L.xTitleY, size: 16, align: 'center',
        segs: [{ t: 'N' }, { t: 'H', s: 'sub' }, { t: ' ( 10' }, { t: '22', s: 'sup' }, { t: ' cm ' }, { t: '  2', s: 'sup' }, { t: ' )' }],
      },
      { x: L.nameX, y: L.nameY[0], size: 16.5, align: 'left', segs: [{ t: name }] },
      { x: L.nameX, y: L.nameY[1], size: 16.5, align: 'left', segs: [{ t: 'Suzaku XIS' }] },
    ],
  };
  return baseConfig(L.frame, { type: 'linear', min: 0, max: L.xMax }, { type: 'linear', min: 0, max: L.yMax }, datasets, deco);
}

const builders: Array<() => any> = [
  () => spectrumUpperConfig(specLayouts[0], q0109Points, [q0109ModelA, q0109ModelB, q0109ModelC], ['#5a5a5a', '#222', '#222']),
  () => spectrumResidConfig(specLayouts[0], q0109Points, q0109ZeroLine),
  () => spectrumUpperConfig(specLayouts[1], q0122Points, [q0122ModelA, q0122ModelB, q0122ModelC], ['#222', '#222', '#222']),
  () => spectrumResidConfig(specLayouts[1], q0122Points, q0122ZeroLine),
  () => spectrumUpperConfig(specLayouts[2], q0329Points, [q0329ModelA, q0329ModelB, q0329ModelC], ['#222', '#222', '#222']),
  () => spectrumResidConfig(specLayouts[2], q0329Points, q0329ZeroLine),
  () => contourConfig(contLayouts[0], [q0109C68, q0109C90, q0109C99], q0109Best, q0109NhTicks, q0109GammaTicks, q0109GammaTicks, 'Q0109-3518'),
  () => contourConfig(contLayouts[1], [q0122C68, q0122C90, q0122C99], null, q0122NhTicks, q0122GammaTicks, q0122GammaMajor, 'Q0122-380'),
  () => contourConfig(contLayouts[2], [q0329C68, q0329C90, q0329C99], q0329Best, q0329NhTicks, q0329GammaTicks, q0329GammaTicks, 'Q0329-255'),
];

function ChartCanvas({ build }: { build: () => any }) {
  const ref = useRef<HTMLCanvasElement | null>(null);
  useEffect(() => {
    if (!ref.current) return;
    const chart = new Chart(ref.current, build());
    return () => chart.destroy();
  }, [build]);
  return <canvas ref={ref} width={PAGE_W} height={PAGE_H} style={{ position: 'absolute', left: 0, top: 0, width: PAGE_W, height: PAGE_H }} />;
}

export default function App() {
  return (
    <div style={{ position: 'absolute', left: 0, top: 0, width: PAGE_W, height: PAGE_H, overflow: 'hidden', background: '#fff' }}>
      {builders.map((b, i) => <ChartCanvas key={i} build={b} />)}
    </div>
  );
}
